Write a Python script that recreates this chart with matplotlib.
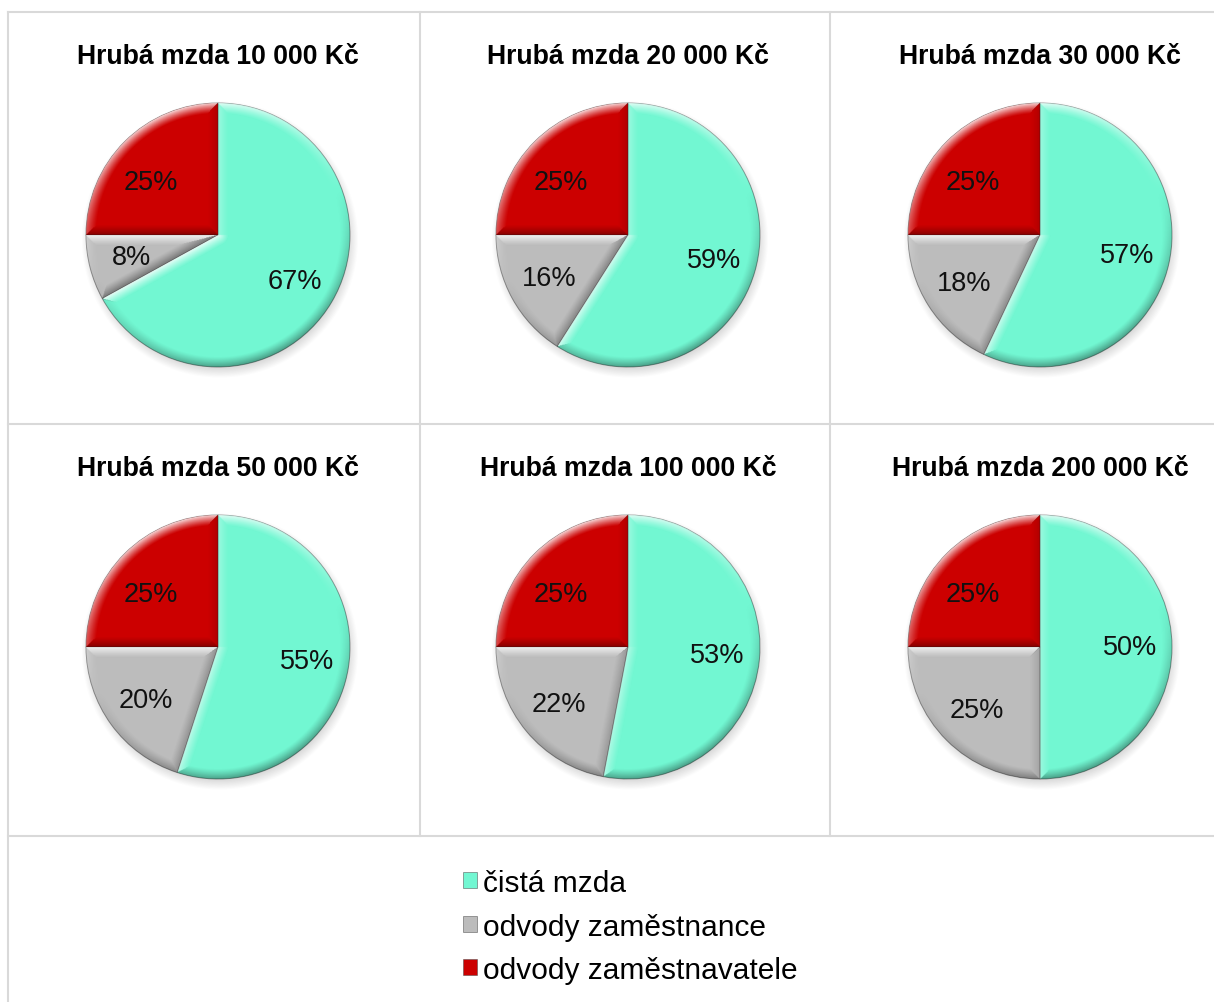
import numpy as np
import matplotlib
matplotlib.use("Agg")
import matplotlib.pyplot as plt
from matplotlib.lines import Line2D
from matplotlib.patches import Rectangle

plt.rcParams['font.family'] = ['Liberation Sans', 'DejaVu Sans']

# ---- data -------------------------------------------------------------
titles = ["Hrubá mzda 10 000 Kč", "Hrubá mzda 20 000 Kč", "Hrubá mzda 30 000 Kč",
          "Hrubá mzda 50 000 Kč", "Hrubá mzda 100 000 Kč", "Hrubá mzda 200 000 Kč"]
categories = ["čistá mzda", "odvody zaměstnance", "odvody zaměstnavatele"]
net_pay = [67, 59, 57, 55, 53, 50]
employee_contrib = [8, 16, 18, 20, 22, 25]
employer_contrib = [25, 25, 25, 25, 25, 25]

colors = ["#72F7D2", "#BCBCBC", "#CC0000"]

# ---- figure geometry (pixels) ----------------------------------------
W, H = 1214, 1003
fig = plt.figure(figsize=(W / 100, H / 100), dpi=100)
fig.patch.set_facecolor("white")


def fx(px):
    return px / W


def fy(py):
    return 1 - py / H


centers = [(218, 236), (628, 236), (1040, 236), (218, 648), (628, 648), (1040, 648)]
title_y = [57, 57, 57, 469, 469, 469]
R = 132          # pie radius in pixels
HALF = 165       # half size of each pie axes in pixels
LIGHT = np.array([-0.35, 0.94])
LIGHT = LIGHT / np.linalg.norm(LIGHT)


def bevel_overlay(wedge, n=420, w=0.08):
    """RGBA shading that gives a wedge a soft raised edge."""
    lin = np.linspace(-1.02, 1.02, n)
    X, Y = np.meshgrid(lin, lin)
    r = np.hypot(X, Y) + 1e-9
    d_best = 1 - r
    nx, ny = X / r, Y / r
    for ang, start in ((wedge.theta1, True), (wedge.theta2, False)):
        a = np.deg2rad(ang)
        ux, uy = np.cos(a), np.sin(a)
        t = np.clip(X * ux + Y * uy, 0, 1)
        d = np.hypot(X - t * ux, Y - t * uy)
        if start:
            ex, ey = np.sin(a), -np.cos(a)
        else:
            ex, ey = -np.sin(a), np.cos(a)
        m = d < d_best
        d_best = np.where(m, d, d_best)
        nx = np.where(m, ex, nx)
        ny = np.where(m, ey, ny)
    b = np.clip(1 - d_best / w, 0, 1) ** 1.2
    s = (nx * LIGHT[0] + ny * LIGHT[1]) * b
    img = np.zeros((n, n, 4))
    pos = s > 0
    img[pos, :3] = 1.0
    img[pos, 3] = 0.85 * s[pos]
    img[~pos, :3] = 0.0
    img[~pos, 3] = 0.38 * (-s[~pos])
    return img


def shadow_image(n=300):
    lin = np.linspace(-1.15, 1.15, n)
    X, Y = np.meshgrid(lin, lin)
    rs = np.hypot(X - 0.015, Y + 0.035)
    a = np.clip((1.05 - rs) / 0.09, 0, 1) * 0.3
    img = np.zeros((n, n, 4))
    img[..., :3] = 0.45
    img[..., 3] = a
    return img


shadow = shadow_image()

for i, (cx, cy) in enumerate(centers):
    ax = fig.add_axes([fx(cx - HALF), fy(cy + HALF), 2 * HALF / W, 2 * HALF / H])
    ax.imshow(shadow, extent=(-1.15, 1.15, -1.15, 1.15), origin="lower",
              interpolation="bilinear", zorder=0)
    values = [net_pay[i], employee_contrib[i], employer_contrib[i]]
    wedges, texts, autotexts = ax.pie(
        values, colors=colors, startangle=90, counterclock=False, radius=1,
        autopct=lambda p: f"{p:.0f}%", pctdistance=0.68,
        textprops=dict(fontsize=19.5, color="#111111"),
        wedgeprops=dict(edgecolor=(0.15, 0.15, 0.15, 0.45), linewidth=0.7))
    for wdg in wedges:
        wdg.set_zorder(1)
        im = ax.imshow(bevel_overlay(wdg), extent=(-1.02, 1.02, -1.02, 1.02),
                       origin="lower", interpolation="bilinear", zorder=2)
        im.set_clip_path(wdg)
    for t in autotexts:
        t.set_zorder(5)
    # the employer share label sits a little lower inside its quarter
    x, y = autotexts[2].get_position()
    autotexts[2].set_position((x - 0.03, y - 0.08))
    ax.set_xlim(-HALF / R, HALF / R)
    ax.set_ylim(-HALF / R, HALF / R)
    ax.set_aspect("equal")
    ax.axis("off")
    fig.text(fx(cx), fy(title_y[i]), titles[i], ha="center", va="center",
             fontsize=19.2, fontweight="bold", color="black")

# ---- frame lines ------------------------------------------------------
grid_color = "#D9D9D9"
segments = [
    ((8, 13), (1214, 13)),
    ((8, 13), (8, 1003)),
    ((420, 13), (420, 837)),
    ((830, 13), (830, 837)),
    ((8, 425), (1214, 425)),
    ((8, 837), (1214, 837)),
]
for (x0, y0), (x1, y1) in segments:
    fig.add_artist(Line2D([fx(x0), fx(x1)], [fy(y0), fy(y1)], color=grid_color,
                          linewidth=1.5, transform=fig.transFigure))

# ---- legend -----------------------------------------------------------
handles = [Rectangle((0, 0), 1, 1, facecolor=c, edgecolor=(0.3, 0.3, 0.3, 0.6),
                     linewidth=0.6) for c in colors]
fig.legend(handles, categories, loc="upper left", bbox_to_anchor=(fx(463), fy(870)),
           frameon=False, fontsize=21.5, handlelength=0.47, handleheight=0.45,
           handletextpad=0.2, labelspacing=0.52, borderpad=0, borderaxespad=0)

fig.savefig("out.png", dpi=100, facecolor="white")
